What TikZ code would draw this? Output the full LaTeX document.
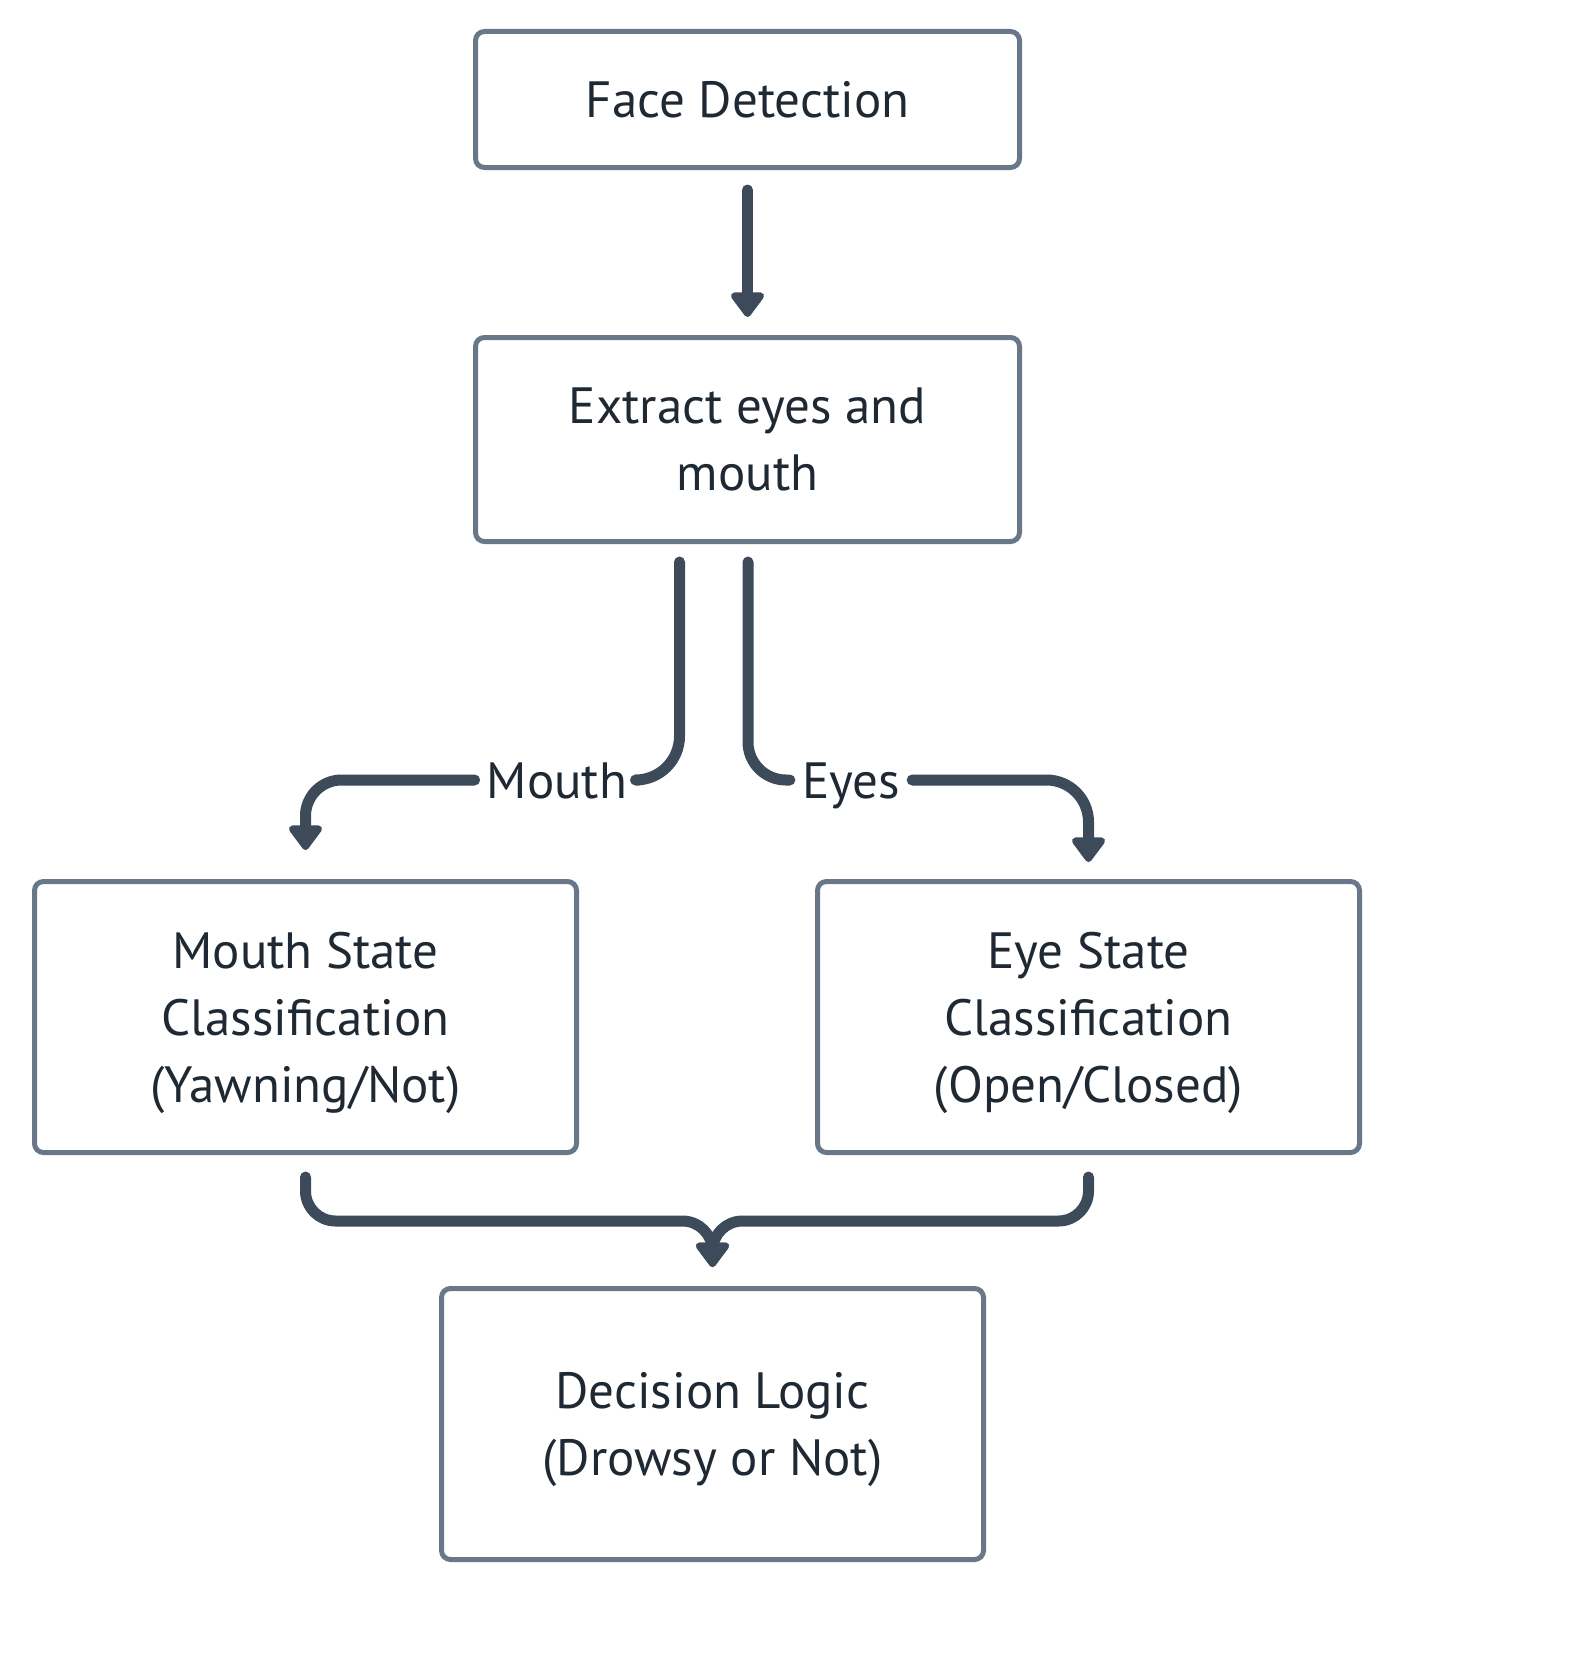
\documentclass[tikz,border=0pt]{standalone}
\usepackage{fontspec}
\setmainfont{PT Sans}
\usetikzlibrary{arrows.meta}
\definecolor{boxc}{HTML}{687889}
\definecolor{connc}{HTML}{3D4A5A}
\definecolor{textc}{HTML}{1F2933}
\tikzset{
  box/.style={draw=boxc, line width=5pt, rounded corners=9pt, fill=white,
    text=textc, align=center, font=\fontsize{51}{67}\selectfont,
    inner sep=0pt, text depth=0pt},
  conn/.style={draw=connc, line width=11pt, line cap=round, line join=round},
  tip/.style={-{Triangle[width=38pt,length=27pt,round]}},
  lbl/.style={text=textc, font=\fontsize{51}{67}\selectfont, inner xsep=12pt, inner ysep=0pt,
    text height=36pt, text depth=0pt, anchor=center}
}
\begin{document}
\begin{tikzpicture}[x=1pt,y=-1pt]
\useasboundingbox[fill=white] (0,0) rectangle (1570,1654);
\node[box, minimum width=544pt, minimum height=136pt] (fd) at (747.5,99.5) {Face Detection};
\node[box, minimum width=544pt, minimum height=204pt] (ex) at (747.5,439.5) {Extract eyes and\\mouth};
\node[box, minimum width=542pt, minimum height=271pt] (ms) at (305.5,1017) {Mouth State\\Classification\\(Yawning/Not)};
\node[box, minimum width=542pt, minimum height=271pt] (es) at (1088.5,1017) {Eye State\\Classification\\(Open/Closed)};
\node[box, minimum width=542pt, minimum height=271pt] (dl) at (712.5,1424) {Decision Logic\\(Drowsy or Not)};
\node[lbl] (lm) at (557,780) {Mouth};
\node[lbl] (le) at (851,780) {Eyes};
\coordinate (m0) at (679.5,562);
\coordinate (e0) at (748,562);
% face -> extract
\draw[conn, tip] ([yshift=-20pt]fd.south) -- ([yshift=18pt]ex.north);
% mouth branch
\draw[conn, rounded corners=44pt] (m0) |- (lm.east);
\draw[conn, tip, rounded corners=36pt] (lm.west) -| ([yshift=29pt]ms.north);
% eyes branch
\draw[conn, rounded corners=38pt] (e0) |- (le.west);
\draw[conn, tip, rounded corners=42pt] (le.east) -| ([yshift=17pt]es.north);
% merge
\coordinate (mg) at (712.5,1221);
\draw[conn, tip, rounded corners=30pt] ([yshift=-22pt]ms.south) |- (mg) -- ([yshift=19pt]dl.north);
\draw[conn, tip, rounded corners=30pt] ([yshift=-22pt]es.south) |- (mg) -- ([yshift=19pt]dl.north);
\end{tikzpicture}
\end{document}
